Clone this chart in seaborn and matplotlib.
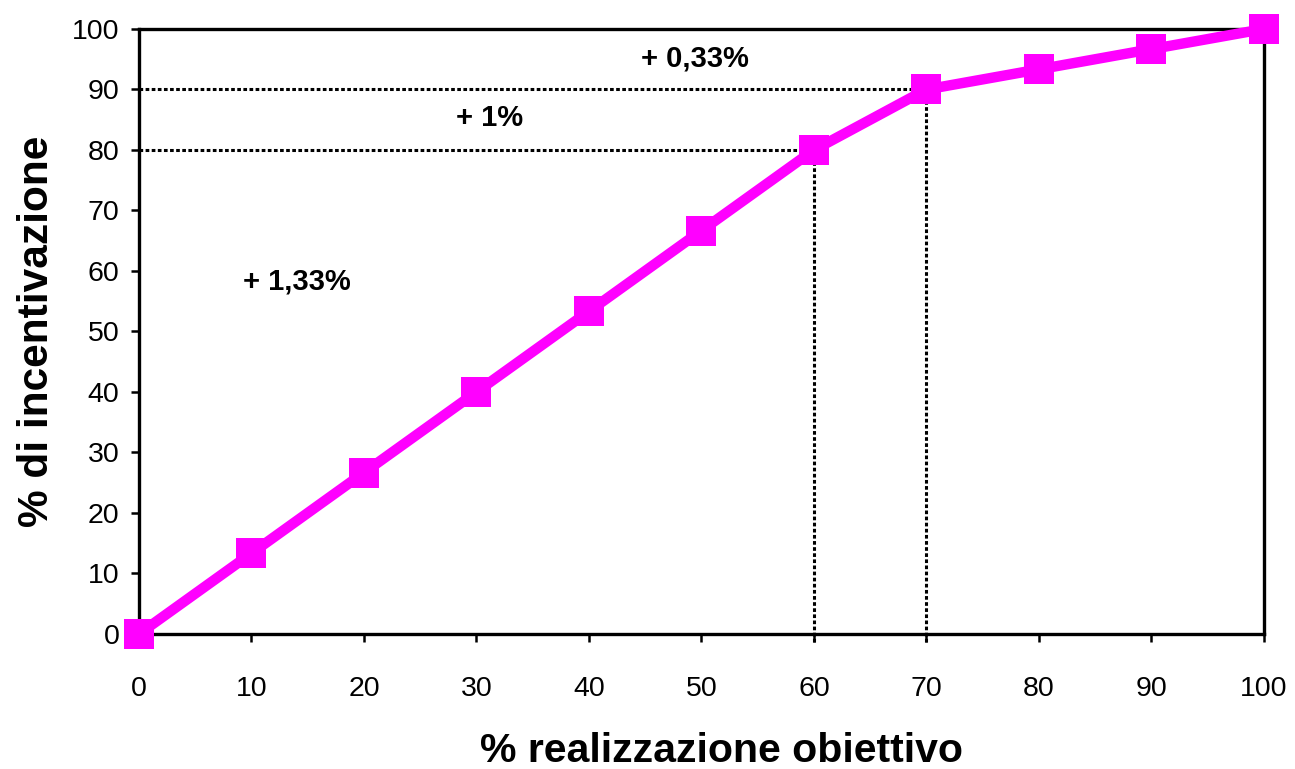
import matplotlib
matplotlib.use("Agg")
import matplotlib.pyplot as plt
import seaborn as sns
import pandas as pd

# Incentive curve: % of target achieved vs % of incentive paid
realizzazione = [0, 10, 20, 30, 40, 50, 60, 70, 80, 90, 100]
incentivazione = [0, 13.33, 26.67, 40, 53.33, 66.67, 80, 90, 93.33, 96.67, 100]

# Breakpoints of the piecewise slope and the slope labels
soglie_x = [60, 70]
soglie_y = [80, 90]
etichette = ["+ 1,33%", "+ 1%", "+ 0,33%"]
etichette_x = [14, 31.2, 49.4]
etichette_y = [58.3, 85.3, 95.2]

sns.set_theme(style="white")
plt.rcParams["font.family"] = ["Liberation Sans", "DejaVu Sans"]
plt.rcParams["text.color"] = "black"
plt.rcParams["axes.labelcolor"] = "black"
plt.rcParams["xtick.color"] = "black"
plt.rcParams["ytick.color"] = "black"

df = pd.DataFrame({"x": realizzazione, "y": incentivazione})

fig = plt.figure(figsize=(12.95, 7.69), dpi=100)
ax = fig.add_axes([0.1073, 0.1756, 0.8687, 0.7867])

# Dotted guide lines at the breakpoints
for sx, sy in zip(soglie_x, soglie_y):
    ax.plot([0, sx], [sy, sy], color="black", lw=2.2, ls=(0, (1.2, 0.8)), zorder=1)
    ax.plot([sx, sx], [-1.3, sy], color="black", lw=2.2, ls=(0, (1.2, 0.8)),
            zorder=1, clip_on=False)

sns.lineplot(data=df, x="x", y="y", ax=ax, color="#FF00FF", lw=7.5,
             marker="s", markersize=22, markeredgewidth=0,
             markerfacecolor="#FF00FF", zorder=3, clip_on=False)

for t, tx, ty in zip(etichette, etichette_x, etichette_y):
    ax.text(tx, ty, t, fontsize=21, fontweight="bold", ha="center", va="center",
            color="black")

ax.set_xlim(0, 100)
ax.set_ylim(0, 100)
ax.set_xticks(range(0, 101, 10))
ax.set_yticks(range(0, 101, 10))
ax.tick_params(axis="both", labelsize=20.5, length=6, width=1.8, color="black",
               direction="out", labelcolor="black")
ax.tick_params(axis="x", pad=24)
ax.tick_params(axis="y", pad=8)
ax.tick_params(bottom=True, left=True, top=False, right=False)

for s in ax.spines.values():
    s.set_visible(True)
    s.set_color("black")
    s.set_linewidth(2.4)

ax.set_xlabel("% realizzazione obiettivo", fontsize=29.5, fontweight="bold",
              labelpad=22, x=0.518)
ax.set_ylabel("% di incentivazione", fontsize=30.5, fontweight="bold", labelpad=11)

fig.savefig("out.png", dpi=100)
